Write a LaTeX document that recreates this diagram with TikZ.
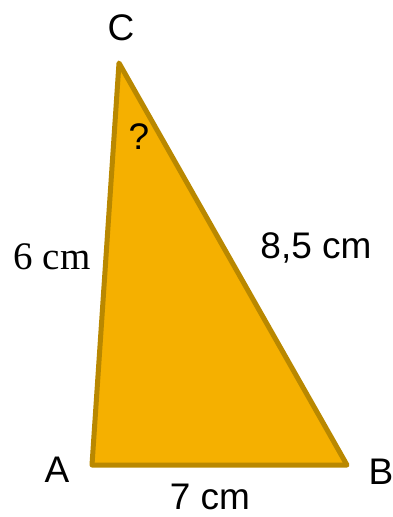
\documentclass[tikz,border=0pt]{standalone}
\usepackage{fontspec}
\setsansfont{Liberation Sans}
\setmainfont{Liberation Serif}
\definecolor{trifill}{HTML}{F5B000}
\definecolor{triedge}{HTML}{B98800}
\tikzset{
  lbl/.style={font=\sffamily\fontsize{37}{37}\selectfont, inner sep=0pt},
  slbl/.style={font=\rmfamily\fontsize{39}{39}\selectfont, inner sep=0pt},
}
\begin{document}
\begin{tikzpicture}[x=1pt,y=-1pt]
\useasboundingbox (0,0) rectangle (392,517);
\coordinate (A) at (92,465);
\coordinate (B) at (347,465);
\coordinate (C) at (119,63);
\draw[fill=trifill, draw=triedge, line width=5pt, line join=round] (A) -- (B) -- (C) -- cycle;
\node[lbl] (la) at (57,470) {A};
\node[lbl] (lb) at (381,472) {B};
\node[lbl] (lc) at (121,28) {C};
\node[lbl] (q) at (139,137) {?};
\node[lbl] (ab) at (210,497) {7 cm};
\node[lbl] (bc) at (316,248) {8,5 cm};
\node[slbl] (ac) at (52,257) {6 cm};
\end{tikzpicture}
\end{document}
